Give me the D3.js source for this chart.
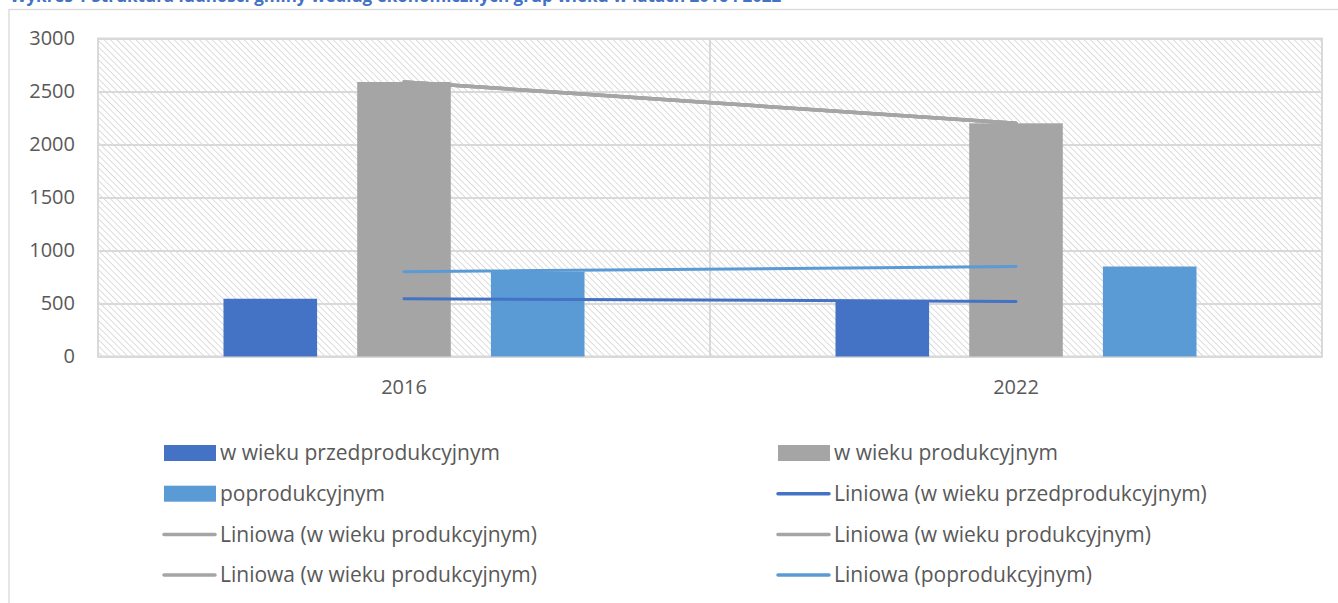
<!DOCTYPE html>
<html>
<head>
<meta charset="utf-8">
<script src="https://cdn.jsdelivr.net/npm/d3@7"></script>
<style>
  body { margin: 0; background: #fff; }
  text { font-family: "Open Sans", "Noto Sans", sans-serif; fill: #595959; }
</style>
</head>
<body>
<svg id="chart" width="1338" height="603"></svg>
<script>
// data
var years = ["2016", "2022"];
var seriesNames = ["w wieku przedprodukcyjnym", "w wieku produkcyjnym", "poprodukcyjnym"];
var przedprod = [545, 520];
var prod = [2590, 2200];
var poprod = [800, 849];
var yTicks = [0, 500, 1000, 1500, 2000, 2500, 3000];
var colors = ["#4472c4", "#a5a5a5", "#5b9bd5"];

var values = [przedprod, prod, poprod];

// legend, filled row by row in two columns
var legendItems = [
  {label: "w wieku przedprodukcyjnym", type: "rect", s: 0},
  {label: "w wieku produkcyjnym", type: "rect", s: 1},
  {label: "poprodukcyjnym", type: "rect", s: 2},
  {label: "Liniowa (w wieku przedprodukcyjnym)", type: "line", s: 0},
  {label: "Liniowa (w wieku produkcyjnym)", type: "line", s: 1},
  {label: "Liniowa (w wieku produkcyjnym)", type: "line", s: 1},
  {label: "Liniowa (w wieku produkcyjnym)", type: "line", s: 1},
  {label: "Liniowa (poprodukcyjnym)", type: "line", s: 2}
];
var trendSeries = legendItems.filter(function(d){ return d.type == "line"; });

var svg = d3.select("#chart");

var plot = {left: 98, right: 1322, top: 38.5, bottom: 356.5};

// hatch pattern of the plot area
var defs = svg.append("defs");
var pat = defs.append("pattern")
  .attr("id", "hatch")
  .attr("patternUnits", "userSpaceOnUse")
  .attr("width", 4.5).attr("height", 4.5)
  .attr("patternTransform", "rotate(-45)");
pat.append("rect").attr("width", 4.5).attr("height", 4.5).attr("fill", "#fff");
pat.append("line")
  .attr("x1", 0).attr("y1", 0).attr("x2", 0).attr("y2", 4.5)
  .attr("stroke", "#d4d4d4").attr("stroke-width", 1.6);

// title, cut off at the top edge
svg.append("text")
  .attr("x", 10).attr("y", 2)
  .style("fill", "#4472c4")
  .style("font-weight", "bold")
  .style("font-size", "17px")
  .text("Wykres 1 Struktura ludności gminy według ekonomicznych grup wieku w latach 2016 i 2022");

// chart border (runs off the right and bottom edges)
svg.append("rect")
  .attr("x", 9).attr("y", 9.5)
  .attr("width", 1400).attr("height", 700)
  .attr("fill", "none")
  .attr("stroke", "#d9d9d9").attr("stroke-width", 1.3);

var x0 = d3.scaleBand()
  .domain(years)
  .range([plot.left, plot.right]);

var x1 = d3.scaleBand()
  .domain(d3.range(seriesNames.length))
  .range([125.5, x0.bandwidth() - 125.5])
  .paddingInner(0.3);

var y = d3.scaleLinear()
  .domain([0, 3000])
  .range([plot.bottom, plot.top]);

svg.append("rect")
  .attr("x", plot.left).attr("y", plot.top)
  .attr("width", plot.right - plot.left)
  .attr("height", plot.bottom - plot.top)
  .attr("fill", "url(#hatch)");

// grid
var yAxis = d3.axisLeft(y).tickValues(yTicks).tickFormat(d3.format("d"))
  .tickSize(-(plot.right - plot.left)).tickPadding(23);
var gy = svg.append("g")
  .attr("class", "y axis")
  .attr("transform", "translate(" + plot.left + ",0)")
  .call(yAxis);
gy.select(".domain").remove();
gy.selectAll(".tick line").attr("stroke", "#d9d9d9").attr("stroke-width", 2);
gy.selectAll(".tick text")
  .style("font-size", "20px")
  .style("fill", "#595959");

// category divider and plot border
svg.append("line")
  .attr("x1", x0("2022")).attr("x2", x0("2022"))
  .attr("y1", plot.top).attr("y2", plot.bottom)
  .attr("stroke", "#d9d9d9").attr("stroke-width", 2);
svg.append("rect")
  .attr("x", plot.left).attr("y", plot.top)
  .attr("width", plot.right - plot.left)
  .attr("height", plot.bottom - plot.top)
  .attr("fill", "none")
  .attr("stroke", "#d9d9d9").attr("stroke-width", 2);

// bars
var groups = svg.selectAll(".year")
  .data(years)
  .enter().append("g")
  .attr("class", "year")
  .attr("transform", function(d){ return "translate(" + x0(d) + ",0)"; });

groups.selectAll("rect")
  .data(function(d, i){ return values.map(function(v, s){ return {s: s, v: v[i]}; }); })
  .enter().append("rect")
  .attr("x", function(d){ return x1(d.s); })
  .attr("width", x1.bandwidth())
  .attr("y", function(d){ return y(d.v); })
  .attr("height", function(d){ return plot.bottom - y(d.v); })
  .attr("fill", function(d){ return colors[d.s]; });

// x labels
svg.selectAll(".xlabel")
  .data(years)
  .enter().append("text")
  .attr("class", "xlabel")
  .attr("x", function(d){ return x0(d) + x0.bandwidth() / 2; })
  .attr("y", 387)
  .attr("dy", "0.35em")
  .attr("text-anchor", "middle")
  .style("font-size", "20px")
  .text(function(d){ return d; });

// linear trend lines (two points -> straight line through them)
var line = d3.line()
  .x(function(d, i){ return x0(years[i]) + x0.bandwidth() / 2; })
  .y(function(d){ return y(d); });

svg.selectAll(".trend")
  .data(trendSeries)
  .enter().append("path")
  .attr("class", "trend")
  .attr("d", function(d){ return line(values[d.s]); })
  .attr("fill", "none")
  .attr("stroke", function(d){ return colors[d.s]; })
  .attr("stroke-width", function(d){ return d.s == 1 ? 3.5 : 3; })
  .attr("stroke-linecap", "round");

// legend
var legend = svg.selectAll(".legend")
  .data(legendItems)
  .enter().append("g")
  .attr("class", "legend")
  .attr("transform", function(d, i){
    var col = i % 2, row = Math.floor(i / 2);
    return "translate(" + (col ? 777 : 163) + "," + (453 + row * 40.7) + ")";
  });

legend.filter(function(d){ return d.type == "rect"; })
  .append("rect")
  .attr("x", 1).attr("y", -8)
  .attr("width", 52).attr("height", 16)
  .attr("fill", function(d){ return colors[d.s]; });

legend.filter(function(d){ return d.type == "line"; })
  .append("line")
  .attr("x1", 1).attr("x2", 52)
  .attr("y1", 0).attr("y2", 0)
  .attr("stroke", function(d){ return colors[d.s]; })
  .attr("stroke-width", 3.5)
  .attr("stroke-linecap", "round");

legend.append("text")
  .attr("x", 57)
  .attr("dy", "0.35em")
  .style("font-size", "21px")
  .text(function(d){ return d.label; });
</script>
</body>
</html>
